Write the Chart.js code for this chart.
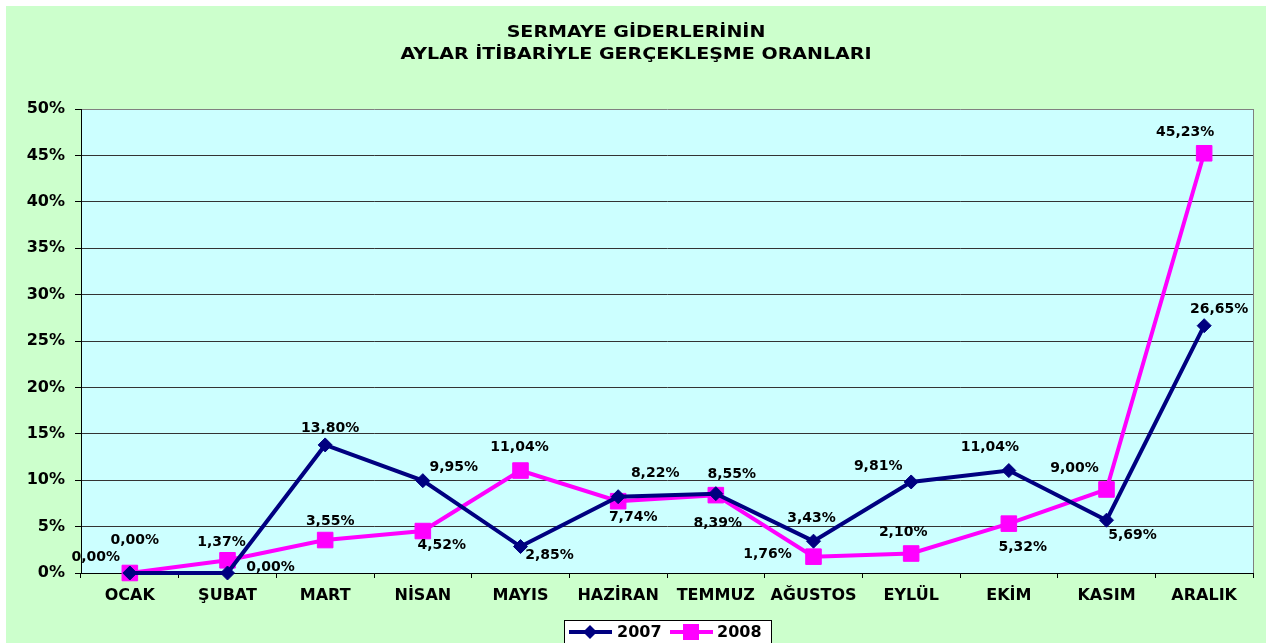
<!DOCTYPE html>
<html lang="tr">
<head>
<meta charset="utf-8">
<title>Sermaye Giderleri</title>
<script src="https://cdn.jsdelivr.net/npm/chart.js@4/dist/chart.umd.min.js"></script>
<style>
    html, body { margin: 0; padding: 0; background: #ffffff; }
    #wrap { position: absolute; left: 0; top: 0; width: 1271px; height: 643px; }
</style>
</head>
<body>
<div id="wrap"><canvas id="oranChart" width="1271" height="643"></canvas></div>
<script>
// Data
const months = ['OCAK', 'ŞUBAT', 'MART', 'NİSAN', 'MAYIS', 'HAZİRAN', 'TEMMUZ', 'AĞUSTOS', 'EYLÜL', 'EKİM', 'KASIM', 'ARALIK'];
const values2007 = [0.00, 0.00, 13.80, 9.95, 2.85, 8.22, 8.55, 3.43, 9.81, 11.04, 5.69, 26.65];
const values2008 = [0.00, 1.37, 3.55, 4.52, 11.04, 7.74, 8.39, 1.76, 2.10, 5.32, 9.00, 45.23];
const yTicks = [0, 5, 10, 15, 20, 25, 30, 35, 40, 45, 50];
const titleLines = ['SERMAYE GİDERLERİNİN', 'AYLAR İTİBARİYLE GERÇEKLEŞME ORANLARI'];

// Label placement around each point [dx, dy]
const labelPos2007 = [[-34, -16], [43, -6], [5, -17], [31, -13], [29, 9], [37, -23], [16, -19], [-2, -23], [-33, -16], [-19, -23], [26, 15], [15, -16]];
const labelPos2008 = [[5, -33], [-6, -18], [5, -19], [19, 14], [-1, -23], [15, 16], [2, 28], [-46, -2], [-8, -21], [14, 24], [-32, -21], [-19, -21]];

const FONT = "'DejaVu Sans', Arial, sans-serif";
const NAVY = '#000080';
const PINK = '#FF00FF';

function fmt(v) {
    return v.toFixed(2).replace('.', ',') + '%';
}

// centred text, widened horizontally by sx
function wideText(ctx, text, cx, cy, sx) {
    ctx.save();
    ctx.translate(cx, cy);
    ctx.scale(sx, 1);
    ctx.fillText(text, 0, 0);
    ctx.restore();
}

// Backgrounds, title and plot frame
const framePlugin = {
    id: 'frame',
    beforeDraw(chart) {
        const ctx = chart.ctx;
        const a = chart.chartArea;
        ctx.save();
        ctx.fillStyle = '#CCFFCC';
        ctx.fillRect(6, 6, chart.width - 11, chart.height - 6);
        ctx.fillStyle = '#CCFFFF';
        ctx.fillRect(a.left, a.top, a.right - a.left, a.bottom - a.top);

        ctx.fillStyle = '#000';
        ctx.font = 'bold 16px ' + FONT;
        ctx.textAlign = 'center';
        ctx.textBaseline = 'middle';
        const cx = (6 + chart.width - 5) / 2;
        titleLines.forEach((t, i) => wideText(ctx, t, cx, 33 + i * 22, 1.19));
        ctx.restore();
    },
    beforeDatasetsDraw(chart) {
        const ctx = chart.ctx;
        const a = chart.chartArea;
        ctx.save();
        ctx.strokeStyle = '#808080';
        ctx.lineWidth = 1;
        ctx.beginPath();
        ctx.moveTo(a.right + 0.5, a.top);
        ctx.lineTo(a.right + 0.5, a.bottom);
        ctx.stroke();
        ctx.restore();
    }
};

// Value labels next to the markers
const valueLabels = {
    id: 'valueLabels',
    afterDatasetsDraw(chart) {
        const ctx = chart.ctx;
        const offsets = [labelPos2007, labelPos2008];
        ctx.save();
        ctx.fillStyle = '#000';
        ctx.font = 'bold 14px ' + FONT;
        ctx.textAlign = 'center';
        ctx.textBaseline = 'middle';
        chart.data.datasets.forEach((ds, i) => {
            const meta = chart.getDatasetMeta(i);
            meta.data.forEach((pt, j) => {
                const o = offsets[i][j];
                ctx.fillText(fmt(ds.data[j]), pt.x + o[0], pt.y + o[1]);
            });
        });
        ctx.restore();
    }
};

// Boxed legend with line + marker samples
const boxLegend = {
    id: 'boxLegend',
    afterDraw(chart) {
        const ctx = chart.ctx;
        const x0 = 564, y0 = 620, w = 207, h = 30;
        const cy = 632;
        ctx.save();
        ctx.fillStyle = '#ffffff';
        ctx.fillRect(x0, y0, w, h);
        ctx.strokeStyle = '#000';
        ctx.lineWidth = 1;
        ctx.strokeRect(x0 + 0.5, y0 + 0.5, w, h);

        ctx.lineWidth = 4;
        ctx.strokeStyle = NAVY;
        ctx.beginPath(); ctx.moveTo(569, cy); ctx.lineTo(612, cy); ctx.stroke();
        ctx.fillStyle = NAVY;
        ctx.beginPath();
        ctx.moveTo(590, cy - 7); ctx.lineTo(597, cy); ctx.lineTo(590, cy + 7); ctx.lineTo(583, cy);
        ctx.closePath(); ctx.fill();

        ctx.strokeStyle = PINK;
        ctx.beginPath(); ctx.moveTo(670, cy); ctx.lineTo(713, cy); ctx.stroke();
        ctx.fillStyle = PINK;
        ctx.fillRect(683, cy - 8, 16, 16);

        ctx.fillStyle = '#000';
        ctx.font = 'bold 16px ' + FONT;
        ctx.textAlign = 'left';
        ctx.textBaseline = 'middle';
        ctx.fillText(chart.data.datasets[0].label, 617, cy + 1);
        ctx.fillText(chart.data.datasets[1].label, 717, cy + 1);
        ctx.restore();
    }
};

const ctx = document.getElementById('oranChart').getContext('2d');
new Chart(ctx, {
    type: 'line',
    data: {
        labels: months,
        datasets: [
            {
                label: '2007',
                data: values2007,
                borderColor: NAVY,
                backgroundColor: NAVY,
                borderWidth: 4,
                pointStyle: 'rectRot',
                pointRadius: 7,
                pointBorderWidth: 1,
                tension: 0,
                clip: false
            },
            {
                label: '2008',
                data: values2008,
                borderColor: PINK,
                backgroundColor: PINK,
                borderWidth: 4,
                pointStyle: 'rect',
                pointRadius: 11,
                pointBorderWidth: 1,
                tension: 0,
                clip: false
            }
        ]
    },
    options: {
        responsive: false,
        animation: false,
        devicePixelRatio: 1,
        layout: { padding: { left: 0, top: 109, right: 18, bottom: 0 } },
        plugins: {
            legend: { display: false },
            title: { display: false },
            tooltip: { enabled: false }
        },
        scales: {
            x: {
                offset: true,
                grid: {
                    offset: true,
                    drawOnChartArea: false,
                    drawTicks: true,
                    tickLength: 5,
                    tickColor: '#000'
                },
                border: { color: '#000', width: 1 },
                ticks: {
                    color: '#000',
                    padding: 8,
                    maxRotation: 0,
                    autoSkip: false,
                    font: { family: FONT, size: 16, weight: 'bold' }
                },
                afterFit(scale) { scale.height = 70; }
            },
            y: {
                min: yTicks[0],
                max: yTicks[yTicks.length - 1],
                afterBuildTicks(scale) {
                    scale.ticks = yTicks.map(v => ({ value: v }));
                },
                grid: {
                    color: c => (c.tick && c.tick.value === 50 ? '#808080' : '#333333'),
                    tickColor: '#000',
                    tickLength: 6,
                    lineWidth: 1
                },
                border: { color: '#000', width: 1 },
                ticks: {
                    color: '#000',
                    padding: 10,
                    font: { family: FONT, size: 16, weight: 'bold' },
                    callback: v => v + '%'
                },
                afterFit(scale) { scale.width = 81; }
            }
        }
    },
    plugins: [framePlugin, valueLabels, boxLegend]
});
</script>
</body>
</html>
